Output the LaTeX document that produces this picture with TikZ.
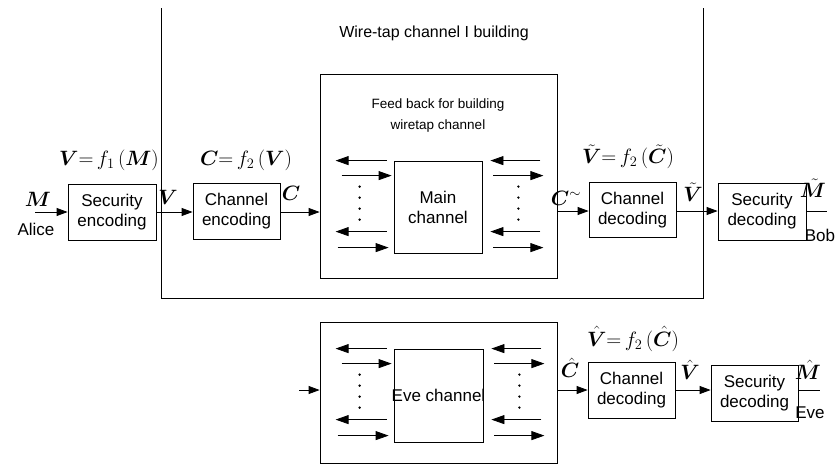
\documentclass[tikz,border=0pt]{standalone}
\usepackage{fontspec}
\setmainfont{Liberation Sans}
\usepackage{amsmath}
\usepackage{bm}
\usetikzlibrary{arrows.meta,calc}
\tikzset{
  blk/.style={draw, line width=0.8pt, align=center, inner sep=0pt,
    font=\fontsize{17}{20}\selectfont},
  arr/.style={line width=0.8pt, -{Triangle[length=11pt,width=8pt]}},
  farr/.style={line width=0.8pt, -{Triangle[length=13pt,width=9pt]}},
  ln/.style={line width=0.8pt},
  mlab/.style={font=\fontsize{21}{23}\selectfont, inner sep=0pt},
  txt/.style={font=\fontsize{17}{20}\selectfont, inner sep=0pt},
  dot/.style={circle, fill, inner sep=0pt, minimum size=2.6pt}
}
\newcommand\sidearrows[1]{%
  \draw[farr] ($(#1.north west)+(-7,0)$) -- ($(#1.north west)+(-58,0)$);
  \draw[farr] ($(#1.north west)+(-52,15)$) -- ($(#1.north west)+(-2,15)$);
  \draw[farr] ($(#1.north west)+(-7,71)$) -- ($(#1.north west)+(-58,71)$);
  \draw[farr] ($(#1.north west)+(-56,87)$) -- ($(#1.north west)+(-5,87)$);
  \draw[farr] ($(#1.north east)+(58,0)$) -- ($(#1.north east)+(8,0)$);
  \draw[farr] ($(#1.north east)+(11,15)$) -- ($(#1.north east)+(61,15)$);
  \draw[farr] ($(#1.north east)+(58,71)$) -- ($(#1.north east)+(8,71)$);
  \draw[farr] ($(#1.north east)+(11,87)$) -- ($(#1.north east)+(61,87)$);
  \foreach \dy in {26,37,48,59}{
    \node[dot] at ($(#1.north west)+(-34,\dy)$) {};
    \node[dot] at ($(#1.north east)+(36,\dy)$) {};
  }%
}
\begin{document}
\begin{tikzpicture}[x=1pt,y=-1pt]
\useasboundingbox (0,0) rectangle (840,466);

% outer frame (open at top)
\draw[ln] (161,8) -- (161,298) -- (703,298) -- (703,8);
\node[font=\fontsize{16}{18}\selectfont, inner sep=0pt] (title) at (434,33) {Wire-tap channel I building};

% main row boxes
\node[blk, minimum width=88pt, minimum height=56pt] (se) at (112,212) {Security\\encoding};
\node[blk, minimum width=87pt, minimum height=56pt] (ce) at (236.5,211) {Channel\\encoding};
\node[draw, line width=0.8pt, minimum width=237pt, minimum height=204pt, inner sep=0pt] (fb) at (438.5,176) {};
\node[font=\fontsize{13.5}{21}\selectfont, align=center, inner sep=0pt] (fbt) at (438,116) {Feed back for building\\wiretap channel};
\node[blk, minimum width=88pt, minimum height=92pt] (mc) at (438,207) {Main\\channel};
\node[blk, minimum width=87pt, minimum height=55pt] (cd) at (632.5,210) {Channel\\decoding};
\node[blk, minimum width=88pt, minimum height=57pt] (sd) at (762,211.5) {Security\\decoding};

\sidearrows{mc}

% main row connectors
\coordinate (alice) at (35,212);
\draw[arr] (alice) -- (alice -| se.west);
\draw[arr] (se.east |- 0,212) -- (ce.west |- 0,212);
\draw[arr] (ce.east |- 0,212) -- (fb.west |- 0,212);
\draw[arr] (fb.east |- 0,211) -- (cd.west |- 0,211);
\draw[arr] (cd.east |- 0,211) -- (sd.west |- 0,211);
\coordinate (bob) at (827,211);
\draw[ln] (sd.east |- bob) -- (bob);

% main row labels
\node[mlab] (lM) at (38,199) {$\bm{M}$};
\node[txt] (lalice) at (36,229) {Alice};
\node[mlab] (lf1) at (109,160) {$\bm{V}{=}\,f_{1}\,(\bm{M})$};
\node[mlab] (lV) at (168,197) {$\bm{V}$};
\node[mlab] (lf2) at (246,160) {$\bm{C}{=}\,f_{2}\,(\bm{V})$};
\node[mlab] (lC) at (291,193) {$\bm{C}$};
\node[mlab] (lCt) at (566,198) {$\bm{C}^{\sim}$};
\node[mlab] (lg2) at (628,157) {$\tilde{\bm{V}}{=}\,f_{2}\,(\tilde{\bm{C}})$};
\node[mlab] (lVt) at (693,192) {$\tilde{\bm{V}}$};
\node[mlab] (lMt) at (813,188) {$\tilde{\bm{M}}$};
\node[txt] (lbob) at (820,235) {Bob};

% Eve row
\node[draw, line width=0.8pt, minimum width=237pt, minimum height=141pt, inner sep=0pt] (eb) at (438.5,392.5) {};
\node[draw, line width=0.8pt, minimum width=89pt, minimum height=93pt, inner sep=0pt,
  label={[txt]center:Eve channel}] (ec) at (438.5,395.5) {};
\sidearrows{ec}
\node[blk, minimum width=87pt, minimum height=56pt] (cd2) at (631.5,390) {Channel\\decoding};
\node[blk, minimum width=87pt, minimum height=56pt] (sd2) at (754.5,393) {Security\\decoding};

\coordinate (evein) at (299,390);
\draw[arr] (evein) -- (evein -| eb.west);
\draw[arr] (eb.east |- 0,390) -- (cd2.west |- 0,390);
\draw[arr] (cd2.east |- 0,390) -- (sd2.west |- 0,390);
\coordinate (eveout) at (820,390);
\draw[ln] (sd2.east |- eveout) -- (eveout);

\node[mlab] (lCh) at (570,368) {$\hat{\bm{C}}$};
\node[mlab] (lg2e) at (633,339) {$\hat{\bm{V}}{=}\,f_{2}\,(\hat{\bm{C}})$};
\node[mlab] (lVh) at (690,370) {$\hat{\bm{V}}$};
\node[mlab] (lMh) at (808,370) {$\hat{\bm{M}}$};
\node[txt] (leve) at (810,413) {Eve};
\end{tikzpicture}
\end{document}
